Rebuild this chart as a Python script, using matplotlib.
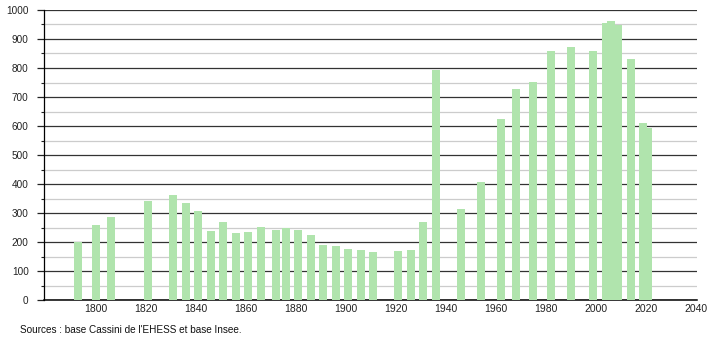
import matplotlib.pyplot as plt
from matplotlib.ticker import MultipleLocator

# population by census year
years = [1793, 1800, 1806, 1821, 1831, 1836, 1841, 1846, 1851, 1856,
         1861, 1866, 1872, 1876, 1881, 1886, 1891, 1896, 1901, 1906,
         1911, 1921, 1926, 1931, 1936, 1946, 1954, 1962, 1968, 1975,
         1982, 1990, 1999, 2004, 2009, 2006, 2014, 2019, 2021]
population = [201, 259, 286, 341, 362, 333, 307, 238, 269, 232,
              236, 251, 241, 249, 241, 224, 190, 186, 176, 174,
              167, 169, 174, 269, 793, 314, 407, 623, 728, 752,
              858, 873, 858, 954, 948, 962, 830, 609, 592]

xticks = list(range(1800, 2041, 20))
source = "Sources : base Cassini de l'EHESS et base Insee."

plt.rcParams['font.family'] = ['Liberation Sans', 'DejaVu Sans']

fig = plt.figure(figsize=(7.1, 3.4), dpi=100)
ax = fig.add_axes([0.062, 0.1176, 0.920, 0.853])

ax.bar(years, population, width=3.2, color='#b0e4ad', zorder=3)

ax.set_xlim(1779.4, 2040.6)
ax.set_ylim(0, 1000)
ax.set_xticks(xticks)
ax.yaxis.set_major_locator(MultipleLocator(100))
ax.yaxis.set_minor_locator(MultipleLocator(50))

ax.grid(axis='y', which='major', color='#333333', linewidth=0.9, zorder=1)
ax.grid(axis='y', which='minor', color='#cccccc', linewidth=0.9, zorder=1)
ax.set_axisbelow(True)

for s in ['top', 'right']:
    ax.spines[s].set_visible(False)
ax.spines['left'].set_linewidth(0.9)
ax.spines['bottom'].set_linewidth(1.1)

ax.tick_params(axis='x', length=0, pad=3, labelsize=7.5)
ax.tick_params(axis='y', which='major', length=5, width=0.9, pad=6,
               labelsize=7.2)
ax.tick_params(axis='y', which='minor', length=2, width=0.8)
ax.tick_params(axis='both', labelcolor='#222222')
ax.tick_params(axis='y', which='both', color='#222222')

fig.text(0.028, 0.02, source, fontsize=7.2, color='#111111')

fig.savefig('out.png', dpi=100)
